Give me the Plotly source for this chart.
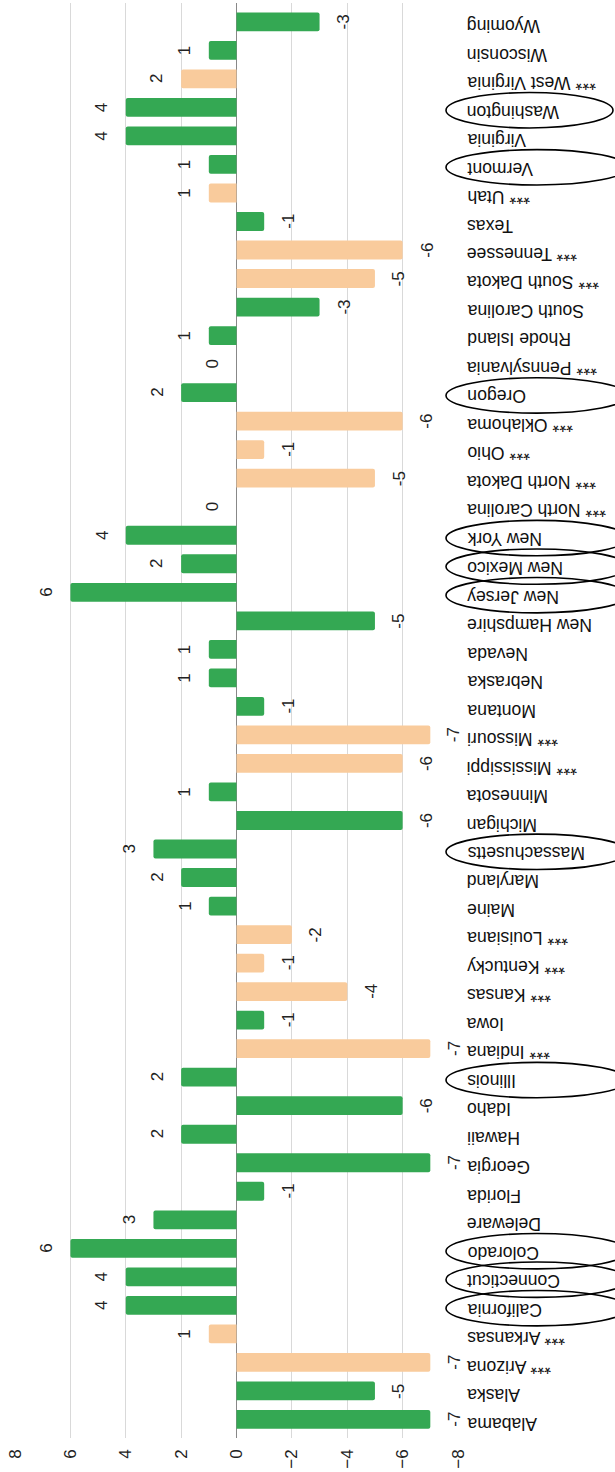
import plotly.graph_objects as go

states = ["Alabama", "Alaska", "Arizona", "Arkansas", "California", "Connecticut", "Colorado",
          "Deleware", "Florida", "Georgia", "Hawaii", "Idaho", "Illinois", "Indiana", "Iowa",
          "Kansas", "Kentucky", "Louisiana", "Maine", "Maryland", "Massachusetts", "Michigan",
          "Minnesota", "Mississippi", "Missouri", "Montana", "Nebraska", "Nevada", "New Hampshire",
          "New Jersey", "New Mexico", "New York", "North Carolina", "North Dakota", "Ohio",
          "Oklahoma", "Oregon", "Pennsylvania", "Rhode Island", "South Carolina", "South Dakota",
          "Tennessee", "Texas", "Utah", "Vermont", "Virginia", "Washington", "West Virginia",
          "Wisconsin", "Wyoming"]

values = [-7, -5, -7, 1, 4, 4, 6,
          3, -1, -7, 2, -6, 2, -7, -1,
          -4, -1, -2, 1, 2, 3, -6,
          1, -6, -7, -1, 1, 1, -5,
          6, 2, 4, 0, -5, -1,
          -6, 2, 0, 1, -3, -5,
          -6, -1, 1, 1, 4, 4, 2,
          1, -3]

flagged = ["Arizona", "Arkansas", "Indiana", "Kansas", "Kentucky", "Louisiana", "Mississippi",
           "Missouri", "North Carolina", "North Dakota", "Ohio", "Oklahoma", "Pennsylvania",
           "South Dakota", "Tennessee", "Utah", "West Virginia"]

circled = ["California", "Connecticut", "Colorado", "Illinois", "Massachusetts", "New Jersey",
           "New Mexico", "New York", "Oregon", "Vermont", "Washington"]

value_ticks = [8, 6, 4, 2, 0, -2, -4, -6, -8]

GREEN = "#34a853"
PEACH = "#f9cb9c"
FONT = "Arial, 'Liberation Sans', Helvetica, sans-serif"

colors = [PEACH if s in flagged else GREEN for s in states]

fig = go.Figure()
fig.add_trace(go.Bar(
    x=values, y=states, orientation="h",
    marker=dict(color=colors, cornerradius=2, line=dict(width=0)),
    hoverinfo="x+y",
))

W, H = 615, 1472
ML, MR, MT, MB = 15, 157, 3, 30
plot_w = W - ML - MR

annotations = []
# value labels
for s, v in zip(states, values):
    annotations.append(dict(
        x=v, y=s, xref="x", yref="y", text=str(v), showarrow=False,
        textangle=-90, xshift=(-24 if v >= 0 else 24),
        font=dict(family=FONT, size=17, color="#222222"),
    ))
# category labels (upside down)
for s in states:
    label = ("*** " + s) if s in flagged else s
    annotations.append(dict(
        x=1, y=s, xref="paper", yref="y", text=label, showarrow=False,
        textangle=180, xanchor="left", yanchor="middle", xshift=7, yshift=-4,
        font=dict(family=FONT, size=17.6, color="#111111"),
    ))

shapes = []
for s in circled:
    i = states.index(s)
    left_px = 446
    right_px = 613 if s == "Washington" else 628
    shapes.append(dict(
        type="circle", xref="paper", yref="y",
        x0=(left_px - ML) / plot_w, x1=(right_px - ML) / plot_w,
        y0=i - 0.1 - 0.62, y1=i - 0.1 + 0.62,
        line=dict(color="#000000", width=1.6), fillcolor="rgba(0,0,0,0)",
        layer="above",
    ))

fig.update_layout(
    width=W, height=H,
    margin=dict(l=ML, r=MR, t=MT, b=MB),
    paper_bgcolor="white", plot_bgcolor="white",
    bargap=0.34, showlegend=False,
    font=dict(family=FONT, size=17, color="#222222"),
    annotations=annotations, shapes=shapes,
    xaxis=dict(
        range=[8, -8], tickvals=value_ticks, tickangle=-90,
        showgrid=True, gridcolor="#d9d9d9", gridwidth=1,
        zeroline=True, zerolinecolor="#888888", zerolinewidth=1,
        showline=False, ticks="", ticklabelstandoff=7,
        tickfont=dict(family=FONT, size=17, color="#222222"),
    ),
    yaxis=dict(
        categoryorder="array", categoryarray=states,
        range=[-0.65, 49.66], showticklabels=False, showgrid=False,
        zeroline=False, showline=False, ticks="",
    ),
)

fig.write_html("out.html")
